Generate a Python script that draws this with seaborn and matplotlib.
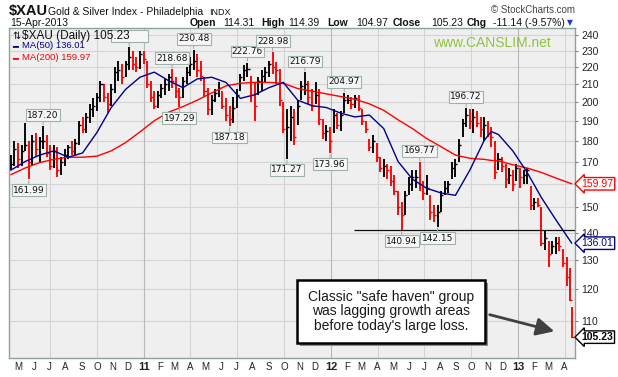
import numpy as np
import pandas as pd
import seaborn as sns
import matplotlib.pyplot as plt
import matplotlib.dates as mdates
from matplotlib.patches import Rectangle, FancyArrowPatch
from matplotlib.ticker import FixedLocator, NullLocator
from matplotlib.transforms import blended_transform_factory

# --- DATA (one bar per week) ---
FIRST_WEEK = "2010-04-16"
LAST_DAY = "2013-04-15"

bar_high = [
    173, 180, 179, 178, 189, 180, 183, 184, 182, 187.2,
    183, 178, 178, 177, 172, 176, 178, 180, 181, 190,
    192, 194, 199, 202, 205, 212, 210, 205, 210, 220,
    224, 222, 224, 232.2, 230, 226, 230, 230, 224, 212,
    206, 206, 210, 213, 216, 218.68, 214, 208, 214, 220,
    226, 230.48, 228, 224, 214, 208, 204, 207, 211, 206,
    202, 198, 203, 207, 216, 221, 222.76, 215, 211, 214,
    218, 220, 224, 228.98, 223, 219, 200, 196, 198, 196,
    201, 212, 216.79, 212, 207, 211, 207, 191, 188, 187,
    196, 194, 195, 204.97, 204, 203, 204, 204, 196, 190,
    181, 183, 179, 172, 171, 169, 168, 164, 157, 152,
    157, 163, 166, 166, 169.77, 161, 164, 155, 151, 151,
    157, 161, 161, 170, 171, 181, 191, 196.72, 196, 196,
    195, 192, 192, 190, 187, 180, 174, 172, 169, 167,
    166, 169, 167, 166, 167, 159, 154, 154, 150, 140.5,
    137, 137, 138.5, 138.5, 134, 131, 127, 114.39,
]
bar_low = [
    166, 168, 167, 168, 175, 161.99, 168, 172, 170, 176,
    172, 166, 167, 163, 164, 168, 171, 173, 173, 178,
    184, 184, 189, 192, 195, 200, 200, 194, 198, 205,
    212, 210, 214, 218, 218, 217, 219, 222, 208, 200,
    196, 197, 202, 204, 206, 208, 202, 197.29, 202, 210,
    215, 218, 214, 212, 203, 193, 193, 200, 203, 196,
    190, 187.18, 189, 197, 206, 212, 214, 200, 190, 204,
    206, 211, 214, 216, 210, 198, 184, 171.27, 180, 178,
    188, 201, 204, 199, 195, 199, 188, 181, 180, 173.96,
    184, 186, 185, 194, 199, 196, 197, 195, 188, 184,
    175, 174, 170, 165, 163, 162, 159, 155, 147, 140.94,
    147, 155, 157, 158, 157, 153, 155, 145, 144, 142.15,
    148, 155, 156, 162, 163, 170, 182, 187, 186, 184,
    187, 182, 180, 182, 177, 162, 166, 165, 158, 160,
    157, 161, 158, 160, 160, 149, 149, 150, 135, 133.5,
    127.5, 132, 132, 133, 127.5, 121, 116, 104.97,
]
bar_close = [
    169, 176, 171, 175, 178, 170, 180, 176, 180, 180,
    174, 168, 175, 166, 170, 173, 177, 175, 179, 188,
    186, 192, 196, 198, 203, 210, 203, 199, 207, 217,
    218, 214, 222, 226, 222, 220, 228, 225, 210, 203,
    198, 204, 208, 210, 214, 212, 206, 203, 212, 217,
    222, 224, 218, 215, 206, 196, 201, 205, 208, 198,
    193, 191, 197, 204, 214, 218, 219, 204, 198, 212,
    215, 217, 222, 220, 218, 201, 186, 187, 192, 182,
    198, 209, 210, 203, 198, 204, 191, 184, 185, 180,
    193, 188, 193, 201, 201, 199, 202, 197, 190, 186,
    177, 180, 172, 167, 168, 166, 161, 157, 150, 147,
    155, 160, 163, 163, 160, 156, 158, 148, 147, 148,
    155, 158, 160, 167, 169, 178, 189, 193, 190, 192,
    189, 186, 188, 184, 182, 165, 171, 168, 162, 164,
    160, 167, 163, 164, 166, 151, 152, 151, 136, 138,
    132, 135, 136, 135, 129, 124, 116.37, 105.23,
]

ma_dates = [
    "2010-04-16", "2010-05-14", "2010-06-11", "2010-07-09", "2010-08-06",
    "2010-09-03", "2010-10-01", "2010-10-29", "2010-11-26", "2010-12-24",
    "2011-01-21", "2011-02-18", "2011-03-18", "2011-04-15", "2011-05-13",
    "2011-06-10", "2011-07-08", "2011-08-05", "2011-09-02", "2011-09-30",
    "2011-10-28", "2011-11-25", "2011-12-23", "2012-01-20", "2012-02-17",
    "2012-03-16", "2012-04-13", "2012-05-11", "2012-06-08", "2012-07-06",
    "2012-08-03", "2012-08-31", "2012-09-28", "2012-10-26", "2012-11-09",
    "2012-11-23", "2012-12-21", "2013-01-18", "2013-02-15", "2013-03-15",
    "2013-04-15",
]
ma50 = [166, 170, 173, 175, 172, 174, 184, 197, 207, 214,
        217, 212, 208, 213, 214, 211, 202, 204, 208, 211,
        201, 198, 197, 194, 192, 193, 186, 170, 162, 158,
        156, 155, 166, 180, 184.5, 183, 175, 165, 154, 145, 136.01]
ma200 = [164, 167, 169.5, 171, 172, 172, 172.5, 175, 179, 184.3,
         190, 194.5, 197.5, 201, 205, 209, 210.5, 211, 211, 210.5,
         207.5, 206, 204.5, 203, 201.5, 199, 195.5, 190.5, 186, 181,
         177, 173, 171.5, 171, 170.5, 170.3, 168.5, 167, 165, 162.5, 159.97]

# swing labels (week index, price, above/below)
swing_week = [5, 9, 33, 45, 47, 51, 61, 66, 73, 77, 82, 89, 93, 109, 114, 119, 127]
swing_value = [161.99, 187.20, 232.2, 218.68, 197.29, 230.48, 187.18, 222.76, 228.98,
               171.27, 216.79, 173.96, 204.97, 140.94, 169.77, 142.15, 196.72]
swing_side = ['lo', 'hi', 'hi', 'hi', 'lo', 'hi', 'lo', 'hi', 'hi',
              'lo', 'hi', 'lo', 'hi', 'lo', 'hi', 'lo', 'hi']
hidden_swing = 33  # covered by the legend text in the original

support_level = 140.94
support_start = "2012-02-15"

y_ticks = [110, 120, 130, 140, 150, 160, 170, 180, 190, 200, 210, 220, 230, 240]
y_hidden = [160]  # sits under the MA(200) value tag

q_open, q_high, q_low, q_close = 114.31, 114.39, 104.97, 105.23
q_chg, q_pct = -11.14, -9.57

note_text = "Classic \"safe haven\" group\nwas lagging growth areas\nbefore today's large loss."

# --- FIGURE ---
sns.set_style("white")
plt.rcParams['font.family'] = ['Liberation Sans', 'DejaVu Sans']

W, H = 618, 377
fig = plt.figure(figsize=(W / 100, H / 100), dpi=100)
fig.patch.set_facecolor('white')


def fx(px):
    return px / W


def fy(py):
    return 1 - py / H


ax = fig.add_axes([fx(9.3), fy(358), (575.3 - 9.3) / W, (358 - 28.3) / H])
ax.set_facecolor('#efefef')

dates = list(pd.date_range(FIRST_WEEK, periods=len(bar_high) - 1, freq="7D")) + [pd.Timestamp(LAST_DAY)]
df = pd.DataFrame({'date': dates, 'high': bar_high, 'low': bar_low, 'close': bar_close})
df['x'] = mdates.date2num(df['date'])
prev = df['close'].shift(1).fillna(df['close'].iloc[0])
df['color'] = np.where(df['close'] >= prev, '#000000', '#ff0000')

# grid
for v in y_ticks:
    ax.axhline(v, color='#d4d4d4', lw=0.8, zorder=1)
for q in pd.date_range("2010-07-01", "2013-04-01", freq="QS-JAN"):
    ax.axvline(mdates.date2num(q), color='#b8b8b8' if q.month == 1 else '#d4d4d4', lw=0.8, zorder=1)

# price bars
ax.vlines(df['x'], df['low'], df['high'], colors=df['color'], lw=1.35, zorder=3)
ax.hlines(df['close'], df['x'], df['x'] + 4, colors=df['color'], lw=1.0, zorder=3)

# moving averages
ma_x = mdates.date2num(pd.to_datetime(ma_dates))
sns.lineplot(x=ma_x, y=ma200, color='#ff0000', lw=1.0, ax=ax, estimator=None, sort=False, zorder=4)
sns.lineplot(x=ma_x, y=ma50, color='#00008b', lw=1.0, ax=ax, estimator=None, sort=False, zorder=4)

ax.set_yscale('log')
x_left = mdates.date2num(pd.Timestamp("2010-04-13"))
x_right = mdates.date2num(pd.Timestamp("2013-04-22"))
ax.set_xlim(x_left, x_right)
ax.set_ylim(99.4, 244.6)

# support line
ax.hlines(support_level, mdates.date2num(pd.Timestamp(support_start)), x_right,
          color='#111111', lw=0.9, zorder=5)

# swing labels
for wk, val, side in zip(swing_week, swing_value, swing_side):
    txt = "\u2007" * 6 if wk == hidden_swing else f"{val:.2f}"
    off = 8 if side == 'hi' else -8
    ax.annotate(txt, xy=(df['x'].iloc[wk], val), xytext=(0, off), textcoords='offset points',
                ha='center', va='center', fontsize=6.5, family='DejaVu Sans', color='#111111',
                bbox=dict(boxstyle='square,pad=0.15', fc='#f6f6f6', ec='#9eb2a8', lw=0.8),
                arrowprops=dict(arrowstyle='-', color='#9eb2a8', lw=0.8, shrinkA=0, shrinkB=1),
                zorder=6)

# axes styling
ax.yaxis.tick_right()
ax.yaxis.set_major_locator(FixedLocator(y_ticks))
ax.yaxis.set_minor_locator(NullLocator())
ax.set_yticklabels(['' if v in y_hidden else str(v) for v in y_ticks])
ax.tick_params(axis='y', which='major', right=True, left=False, labelright=True, labelleft=False,
               length=2.5, width=0.8, pad=2, labelsize=7.5, color='#808080', labelcolor='#222222')

months = pd.date_range("2010-05-01", "2013-04-01", freq="MS")
month_labels = [f"{d.year % 100:02d}" if d.month == 1 else d.strftime('%b')[0] for d in months]
ax.set_xticks(mdates.date2num(months))
ax.set_xticklabels(month_labels)
ax.tick_params(axis='x', length=1.5, width=0.8, pad=1.5, labelsize=7, color='#808080', labelcolor='#222222')
for lab, d in zip(ax.get_xticklabels(), months):
    if d.month == 1:
        lab.set_fontweight('bold')
        lab.set_fontsize(8)
ax.set_xlabel('')
ax.set_ylabel('')
for s in ax.spines.values():
    s.set_color('#8aa39b')
    s.set_linewidth(1)

# value tags on the right axis
tr = blended_transform_factory(ax.transAxes, ax.transData)
for val, col, wt in [(ma200[-1], '#ff0000', 'normal'), (ma50[-1], '#00008b', 'normal'),
                     (q_close, '#000000', 'bold')]:
    ax.text(1.011, val, f"{val:.2f}", transform=tr, ha='left', va='center', fontsize=7.5,
            color=col, fontweight=wt, clip_on=False, zorder=10,
            bbox=dict(boxstyle='larrow,pad=0.12', fc='white', ec=col, lw=1))

# in-chart legend
fig.text(fx(12), fy(38.5), "\u21c5", family='DejaVu Sans', fontsize=7, color='#111111')
fig.text(fx(22), fy(38.5), f"$XAU (Daily) {q_close:.2f}", fontsize=8.5, color='#111111')
fig.text(fx(12), fy(49), "\u2501", family='DejaVu Sans', fontsize=7, color='#00008b')
fig.text(fx(22), fy(48.5), f"MA(50) {ma50[-1]:.2f}", fontsize=6.8, color='#00008b')
fig.text(fx(12), fy(61), "\u2501", family='DejaVu Sans', fontsize=7, color='#ff0000')
fig.text(fx(22), fy(60.5), f"MA(200) {ma200[-1]:.2f}", fontsize=6.8, color='#ff0000')

# watermark
fig.text(fx(433), fy(47), "www.CANSLIM.net", fontsize=10, color='#8fc43c')

# header
fig.text(fx(9), fy(15), "$XAU", fontsize=10.5, fontweight='bold', color='#111111')
fig.text(fx(48), fy(15), "Gold & Silver Index - Philadelphia", fontsize=7.5, color='#111111')
fig.text(fx(209), fy(15), "INDX", fontsize=6.5, color='#111111')
fig.text(fx(575), fy(13), "\u00a9 StockCharts.com", fontsize=7, ha='right', color='#444444')
fig.text(fx(10), fy(26), "15-Apr-2013", fontsize=7.5, color='#111111')
quote_bits = [
    (190, "Open", True), (223, f"{q_open:.2f}", False),
    (261, "High", True), (288, f"{q_high:.2f}", False),
    (327, "Low", True), (356, f"{q_low:.2f}", False),
    (393, "Close", True), (431, f"{q_close:.2f}", False),
    (467, "Chg", True), (493, f"{q_chg:.2f} ({q_pct:.2f}%)", False),
]
for px, t, b in quote_bits:
    fig.text(fx(px), fy(26), t, fontsize=7.5, fontweight='bold' if b else 'normal',
             color='#111111')
fig.text(fx(567), fy(25.5), "\u25bc", family='DejaVu Sans', fontsize=5.5, color='#1a3adc')

# note box with shadow and arrow
fig.add_artist(Rectangle((fx(300), fy(346)), (485 - 297) / W, (343 - 280) / H,
                         transform=fig.transFigure, fc='#8c8c8c', ec='none', zorder=20))
fig.add_artist(Rectangle((fx(297), fy(343)), (485 - 297) / W, (343 - 280) / H,
                         transform=fig.transFigure, fc='white', ec='black', lw=1.8, zorder=21))
fig.text(fx(391), fy(311.5), note_text, ha='center', va='center', fontsize=10,
         linespacing=1.05, color='#1a1a1a', zorder=22)
fig.add_artist(FancyArrowPatch((fx(487), fy(314)), (fx(557), fy(332)), transform=fig.transFigure,
                               arrowstyle='-|>,head_length=0.6,head_width=0.3', mutation_scale=18,
                               lw=2, color='#404040', zorder=22))

fig.savefig("out.png", dpi=100)
